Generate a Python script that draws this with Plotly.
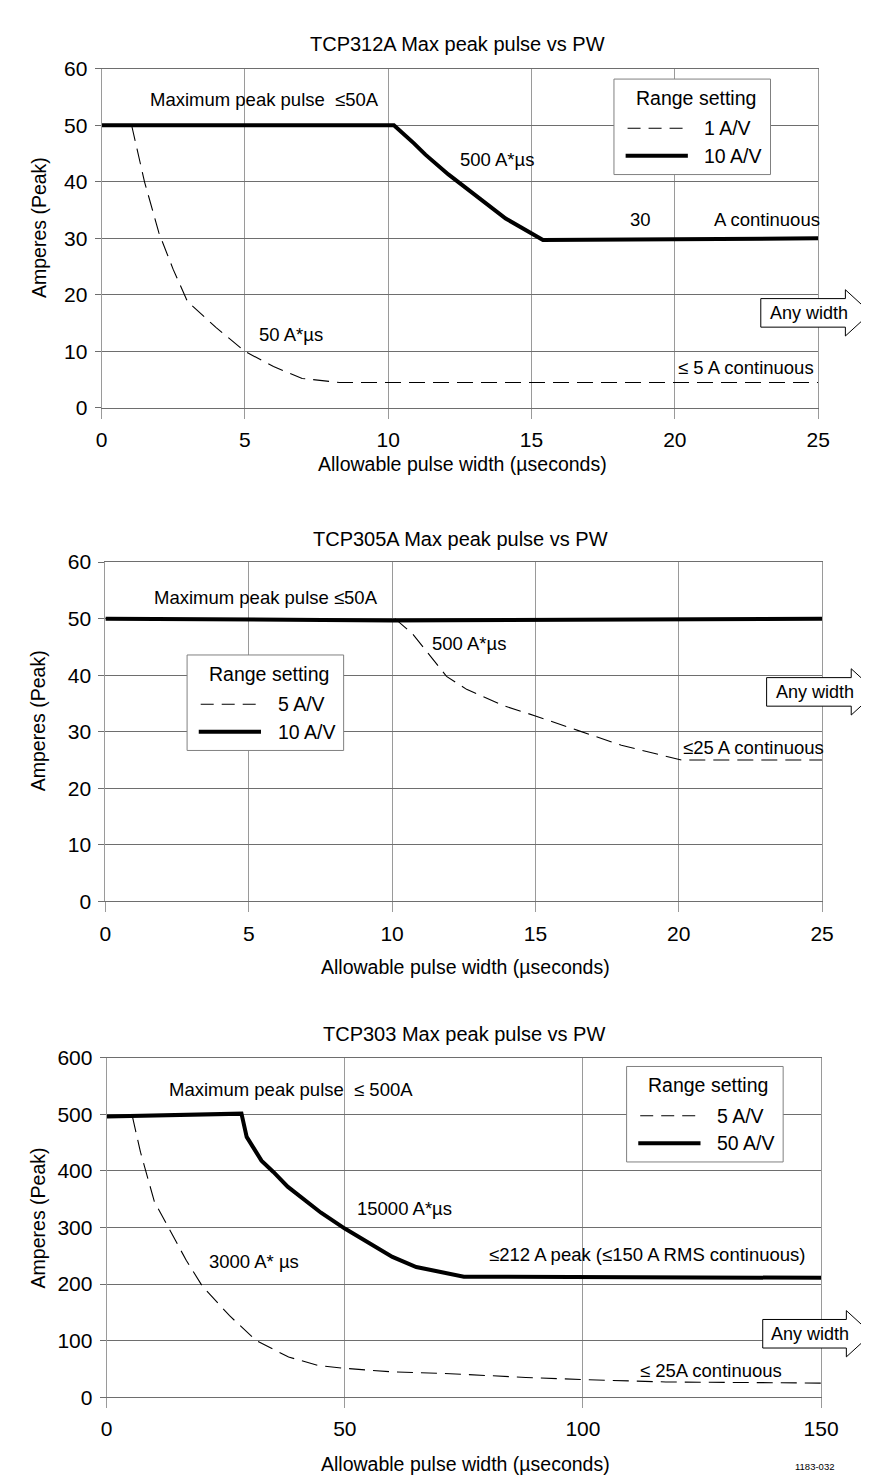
import plotly.graph_objects as go

W, H = 869, 1479

# ---------------- data ----------------
# Chart 1: TCP312A
tcp312_x_1av = [1.05, 1.5, 2.0, 2.5, 3.0, 4.0, 5.0, 6.0, 7.0, 8.3, 25]
tcp312_y_1av = [50, 40, 31, 24.5, 18.8, 14.2, 10, 7.3, 5.2, 4.5, 4.5]
tcp312_x_10av = [0, 10.2, 10.9, 11.3, 12.1, 12.8, 14.1, 15.4, 20, 25]
tcp312_y_10av = [50, 50, 46.8, 44.8, 41.3, 38.5, 33.5, 29.7, 29.8, 30]

# Chart 2: TCP305A
tcp305_x_5av = [10.1, 10.7, 11.9, 12.6, 13.9, 15.0, 16.5, 18.0, 20.1, 25]
tcp305_y_5av = [50, 47.4, 39.8, 37.5, 34.6, 32.8, 30.2, 27.6, 25, 25]
tcp305_x_10av = [0, 10, 25]
tcp305_y_10av = [50, 49.7, 50]

# Chart 3: TCP303
tcp303_x_5av = [5.4, 7.1, 10, 13.3, 16.7, 20.1, 25.8, 31.4, 38.2, 44.5, 50.1, 59.7, 71, 88, 100.5, 117.4, 150]
tcp303_y_5av = [496, 433, 346, 294, 242, 196, 144, 100, 71, 56, 51, 45, 42, 35, 31, 27, 25]
tcp303_x_50av = [0, 28.3, 29.4, 32.5, 35, 38, 45, 50, 60, 65, 75, 105, 150]
tcp303_y_50av = [496, 501, 460, 418, 398, 372, 326, 298, 248, 230, 213, 212, 211]

titles = ["TCP312A Max peak pulse vs PW", "TCP305A Max peak pulse vs PW", "TCP303 Max peak pulse vs PW"]
legend_names = [["1 A/V", "10 A/V"], ["5 A/V", "10 A/V"], ["5 A/V", "50 A/V"]]
x_title = "Allowable pulse width (\u00b5seconds)"
y_title = "Amperes (Peak)"
x_ranges = [[0, 25], [0, 25], [0, 150]]
y_ranges = [[0, 60], [0, 60], [0, 600]]
x_dticks = [5, 5, 50]
y_dticks = [10, 10, 100]

notes = [
    [("Maximum peak pulse  \u226450A", 5.7, 54.5), ("500 A*\u00b5s", 13.8, 43.9), ("30", 18.8, 33.4),
     ("A continuous", 23.2, 33.4), ("50 A*\u00b5s", 6.6, 13.0), ("\u2264 5 A continuous", 22.5, 7.1)],
    [("Maximum peak pulse \u226450A", 5.6, 53.7), ("500 A*\u00b5s", 12.7, 45.6), ("\u226425 A continuous", 22.6, 27.2)],
    [("Maximum peak pulse  \u2264 500A", 38.8, 544), ("15000 A*\u00b5s", 62.6, 333.6), ("3000 A* \u00b5s", 31, 239),
     ("\u2264212 A peak (\u2264150 A RMS continuous)", 113.5, 252.5), ("\u2264 25A continuous", 126.8, 47)],
]

# ---------------- layout geometry (pixels) ----------------
plot_px = [  # left, right, top, bottom
    (90, 827, 49.5, 394),
    (94, 831, 550.7, 895.3),
    (95.3, 830, 1054, 1399),
]
title_pos = [(456, 24), (459, 527), (463, 1030)]
ytitle_pos = [(25, 211), (25, 712), (25, 1217)]
xtitle_pos = [(461, 451), (464, 962), (464, 1467)]
legend_box = [(617, 60), (178, 645), (630, 1063)]
arrow_box = [(768, 855, 283), (774, 861, 668), (770, 856, 1320)]

FONT = "Arial, Liberation Sans, Helvetica, sans-serif"
GRID_X = "#9a9a9a"
GRID_Y = "#6e6e6e"


def fx(x):
    return x / W


def fy(y):
    return 1 - y / H


fig = go.Figure()

series = [
    (tcp312_x_1av, tcp312_y_1av, tcp312_x_10av, tcp312_y_10av),
    (tcp305_x_5av, tcp305_y_5av, tcp305_x_10av, tcp305_y_10av),
    (tcp303_x_5av, tcp303_y_5av, tcp303_x_50av, tcp303_y_50av),
]

annotations = []
shapes = []

for i in range(3):
    xa = "x" if i == 0 else f"x{i+1}"
    ya = "y" if i == 0 else f"y{i+1}"
    dx, dy, sx, sy = series[i]
    fig.add_trace(go.Scatter(x=dx, y=dy, mode="lines", xaxis=xa, yaxis=ya,
                             name=legend_names[i][0], showlegend=False,
                             line=dict(color="black", width=1.1, dash="16px,8px")))
    fig.add_trace(go.Scatter(x=sx, y=sy, mode="lines", xaxis=xa, yaxis=ya,
                             name=legend_names[i][1], showlegend=False,
                             line=dict(color="black", width=4)))

    l, r, t, b = plot_px[i]
    axkey = "xaxis" if i == 0 else f"xaxis{i+1}"
    aykey = "yaxis" if i == 0 else f"yaxis{i+1}"
    fig.update_layout(**{
        axkey: dict(domain=[fx(l), fx(r)], range=x_ranges[i], dtick=x_dticks[i], tick0=0,
                    anchor=ya, showgrid=True, gridcolor=GRID_X, gridwidth=1,
                    showline=True, linecolor=GRID_Y, linewidth=1, mirror=True,
                    zeroline=False, ticks="outside", ticklen=10, tickcolor=GRID_X,
                    ticklabelstandoff=3,
                    tickfont=dict(family=FONT, size=21, color="black"), fixedrange=True),
        aykey: dict(domain=[fy(b), fy(t)], range=y_ranges[i], dtick=y_dticks[i], tick0=0,
                    anchor=xa, showgrid=True, gridcolor=GRID_Y, gridwidth=1,
                    showline=True, linecolor=GRID_X, linewidth=1, mirror=True,
                    zeroline=False, ticks="outside", ticklen=6, tickcolor=GRID_Y,
                    ticklabelstandoff=3,
                    tickfont=dict(family=FONT, size=21, color="black"), fixedrange=True),
    })

    # chart title and axis titles
    annotations.append(dict(text=titles[i], xref="paper", yref="paper",
                            x=fx(title_pos[i][0]), y=fy(title_pos[i][1]),
                            xanchor="center", yanchor="middle", showarrow=False,
                            font=dict(family=FONT, size=20, color="black")))
    annotations.append(dict(text=y_title, xref="paper", yref="paper", textangle=-90,
                            x=fx(ytitle_pos[i][0]), y=fy(ytitle_pos[i][1]),
                            xanchor="center", yanchor="middle", showarrow=False,
                            font=dict(family=FONT, size=19.5, color="black")))
    annotations.append(dict(text=x_title, xref="paper", yref="paper",
                            x=fx(xtitle_pos[i][0]), y=fy(xtitle_pos[i][1]),
                            xanchor="center", yanchor="middle", showarrow=False,
                            font=dict(family=FONT, size=19.5, color="black")))

    # text notes on the chart
    for txt, nx, ny in notes[i]:
        annotations.append(dict(text=txt, xref=xa, yref=ya, x=nx, y=ny,
                                xanchor="center", yanchor="middle", showarrow=False,
                                font=dict(family=FONT, size=18.5, color="black")))

    # legend box (drawn by hand)
    bl, bt = legend_box[i]
    shapes.append(dict(type="rect", xref="paper", yref="paper",
                       x0=fx(bl), x1=fx(bl + 161), y0=fy(bt + 97), y1=fy(bt),
                       line=dict(color="#808080", width=1), fillcolor="white", layer="above"))
    annotations.append(dict(text="Range setting", xref="paper", yref="paper",
                            x=fx(bl + 84), y=fy(bt + 19), xanchor="center", yanchor="middle",
                            showarrow=False, font=dict(family=FONT, size=19.5, color="black")))
    shapes.append(dict(type="line", xref="paper", yref="paper",
                       x0=fx(bl + 14), x1=fx(bl + 72), y0=fy(bt + 50), y1=fy(bt + 50),
                       line=dict(color="black", width=1.1, dash="13px,8px"), layer="above"))
    shapes.append(dict(type="line", xref="paper", yref="paper",
                       x0=fx(bl + 12), x1=fx(bl + 76), y0=fy(bt + 78), y1=fy(bt + 78),
                       line=dict(color="black", width=4), layer="above"))
    for k, yy in enumerate([bt + 50, bt + 78]):
        annotations.append(dict(text=legend_names[i][k], xref="paper", yref="paper",
                                x=fx(bl + 91), y=fy(yy), xanchor="left", yanchor="middle",
                                showarrow=False, font=dict(family=FONT, size=19.5, color="black")))

    # "Any width" arrow
    al, ar, at = arrow_box[i]
    ab = at + 29
    hm = (at + ab) / 2
    path = (f"M{fx(al)},{fy(at)} L{fx(ar)},{fy(at)} L{fx(ar)},{fy(at - 9)} "
            f"L{fx(ar + 26)},{fy(hm)} L{fx(ar)},{fy(ab + 9)} L{fx(ar)},{fy(ab)} "
            f"L{fx(al)},{fy(ab)} Z")
    shapes.append(dict(type="path", xref="paper", yref="paper", path=path,
                       line=dict(color="black", width=1), fillcolor="white", layer="above"))
    annotations.append(dict(text="Any width", xref="paper", yref="paper",
                            x=fx(ar - 37), y=fy(hm), xanchor="center", yanchor="middle",
                            showarrow=False, font=dict(family=FONT, size=18, color="black")))

annotations.append(dict(text="1183-032", xref="paper", yref="paper", x=fx(823), y=fy(1469),
                        xanchor="center", yanchor="middle", showarrow=False,
                        font=dict(family=FONT, size=9.5, color="black")))

fig.update_layout(
    width=W, height=H, autosize=False,
    margin=dict(l=0, r=0, t=0, b=0),
    paper_bgcolor="white", plot_bgcolor="white",
    showlegend=False,
    annotations=annotations, shapes=shapes,
    font=dict(family=FONT, color="black"),
)

fig.write_html("out.html")
